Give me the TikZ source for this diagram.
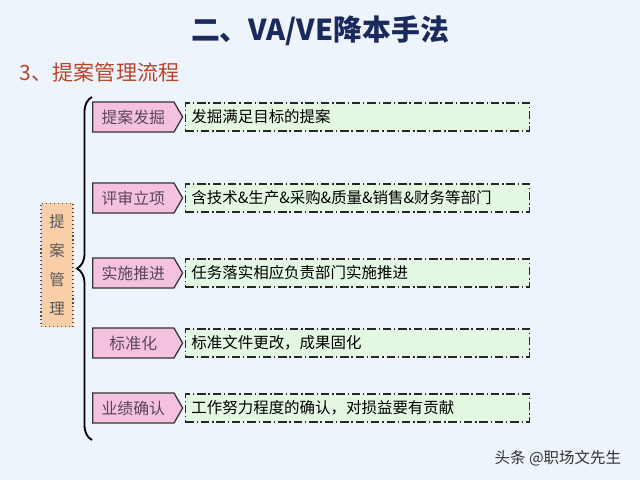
\documentclass[tikz,border=0pt]{standalone}
\usepackage{fontspec}
\newfontfamily\cjk{Noto Sans CJK SC}
\usepackage{tikz}
\definecolor{bgblue}{HTML}{EEF4FB}
\definecolor{titleblue}{HTML}{1B2A5C}
\definecolor{subred}{HTML}{B8452B}
\definecolor{stagepink}{HTML}{F4C2DE}
\definecolor{stagetext}{HTML}{5A4658}
\definecolor{notegreen}{HTML}{E3F7E3}
\definecolor{rootpeach}{HTML}{F8CFA8}
\tikzset{stage node/.style={signal,signal to=east,signal pointer angle=120,fill=stagepink,draw=black!80,line width=0.9pt,minimum width=2.25cm,minimum height=0.75cm,inner sep=1pt,anchor=west,font=\cjk\fontsize{11.3}{13}\selectfont,text=stagetext},
note node/.style={rectangle,fill=notegreen,draw=black!85,line width=0.9pt,dash pattern=on 6pt off 2pt on 1pt off 2pt,text width=8.3cm,minimum height=0.7cm,inner xsep=0.15cm,align=left,font=\cjk\fontsize{11}{13}\selectfont},
root node/.style={rectangle,fill=rootpeach,draw=black!70,line width=0.8pt,dotted,minimum width=0.8cm,minimum height=3.08cm,align=center,font=\cjk\fontsize{11}{20.6}\selectfont,text=black!65},
}
\usetikzlibrary{positioning,shapes.symbols,decorations.pathreplacing}

\begin{document}
\begin{tikzpicture}[x=0.025cm,y=-0.025cm]
	\useasboundingbox[fill=bgblue] (0,0) rectangle (640,480);
	
	%% titles
	\node[font=\cjk\bfseries\fontsize{20.5}{24}\selectfont,text=titleblue] (title) at (320,31) {二、VA/VE降本手法};
	\node[font=\cjk\fontsize{15}{18}\selectfont,text=subred,anchor=west] (sub) at (15,72) {3、提案管理流程};
	
	%% left box and brace
	\node[root node] (0) at (57,265) {提\\案\\管\\理};
	\coordinate (bt) at (92,97);
	\coordinate (bb) at (92,440);
	\draw[line width=1.3pt,decorate,decoration={brace,amplitude=0.375cm}] (bb) -- (bt);
	
	%% stages
	\node[stage node] (1) at (92,117) {提案发掘};
	\node[stage node] (2) at (92,198) {评审立项};
	\node[stage node] (3) at (92,273) {实施推进};
	\node[stage node] (4) at (92,343) {标准化};
	\node[stage node] (5) at (92,408) {业绩确认};
	
	\node[note node] (n1) [right = 1pt of 1] {发掘满足目标的提案};
	\node[note node] (n2) [right = 1pt of 2] {含技术\&生产\&采购\&质量\&销售\&财务等部门};
	\node[note node] (n3) [right = 1pt of 3] {任务落实相应负责部门实施推进};
	\node[note node] (n4) [right = 1pt of 4] {标准文件更改，成果固化};
	\node[note node] (n5) [right = 1pt of 5] {工作努力程度的确认，对损益要有贡献};
	
	%% watermark
	\node[font=\cjk\fontsize{11}{13}\selectfont,text=black!80,anchor=east] (mark) at (626,458) {头条 @职场文先生};
\end{tikzpicture}
\end{document}
